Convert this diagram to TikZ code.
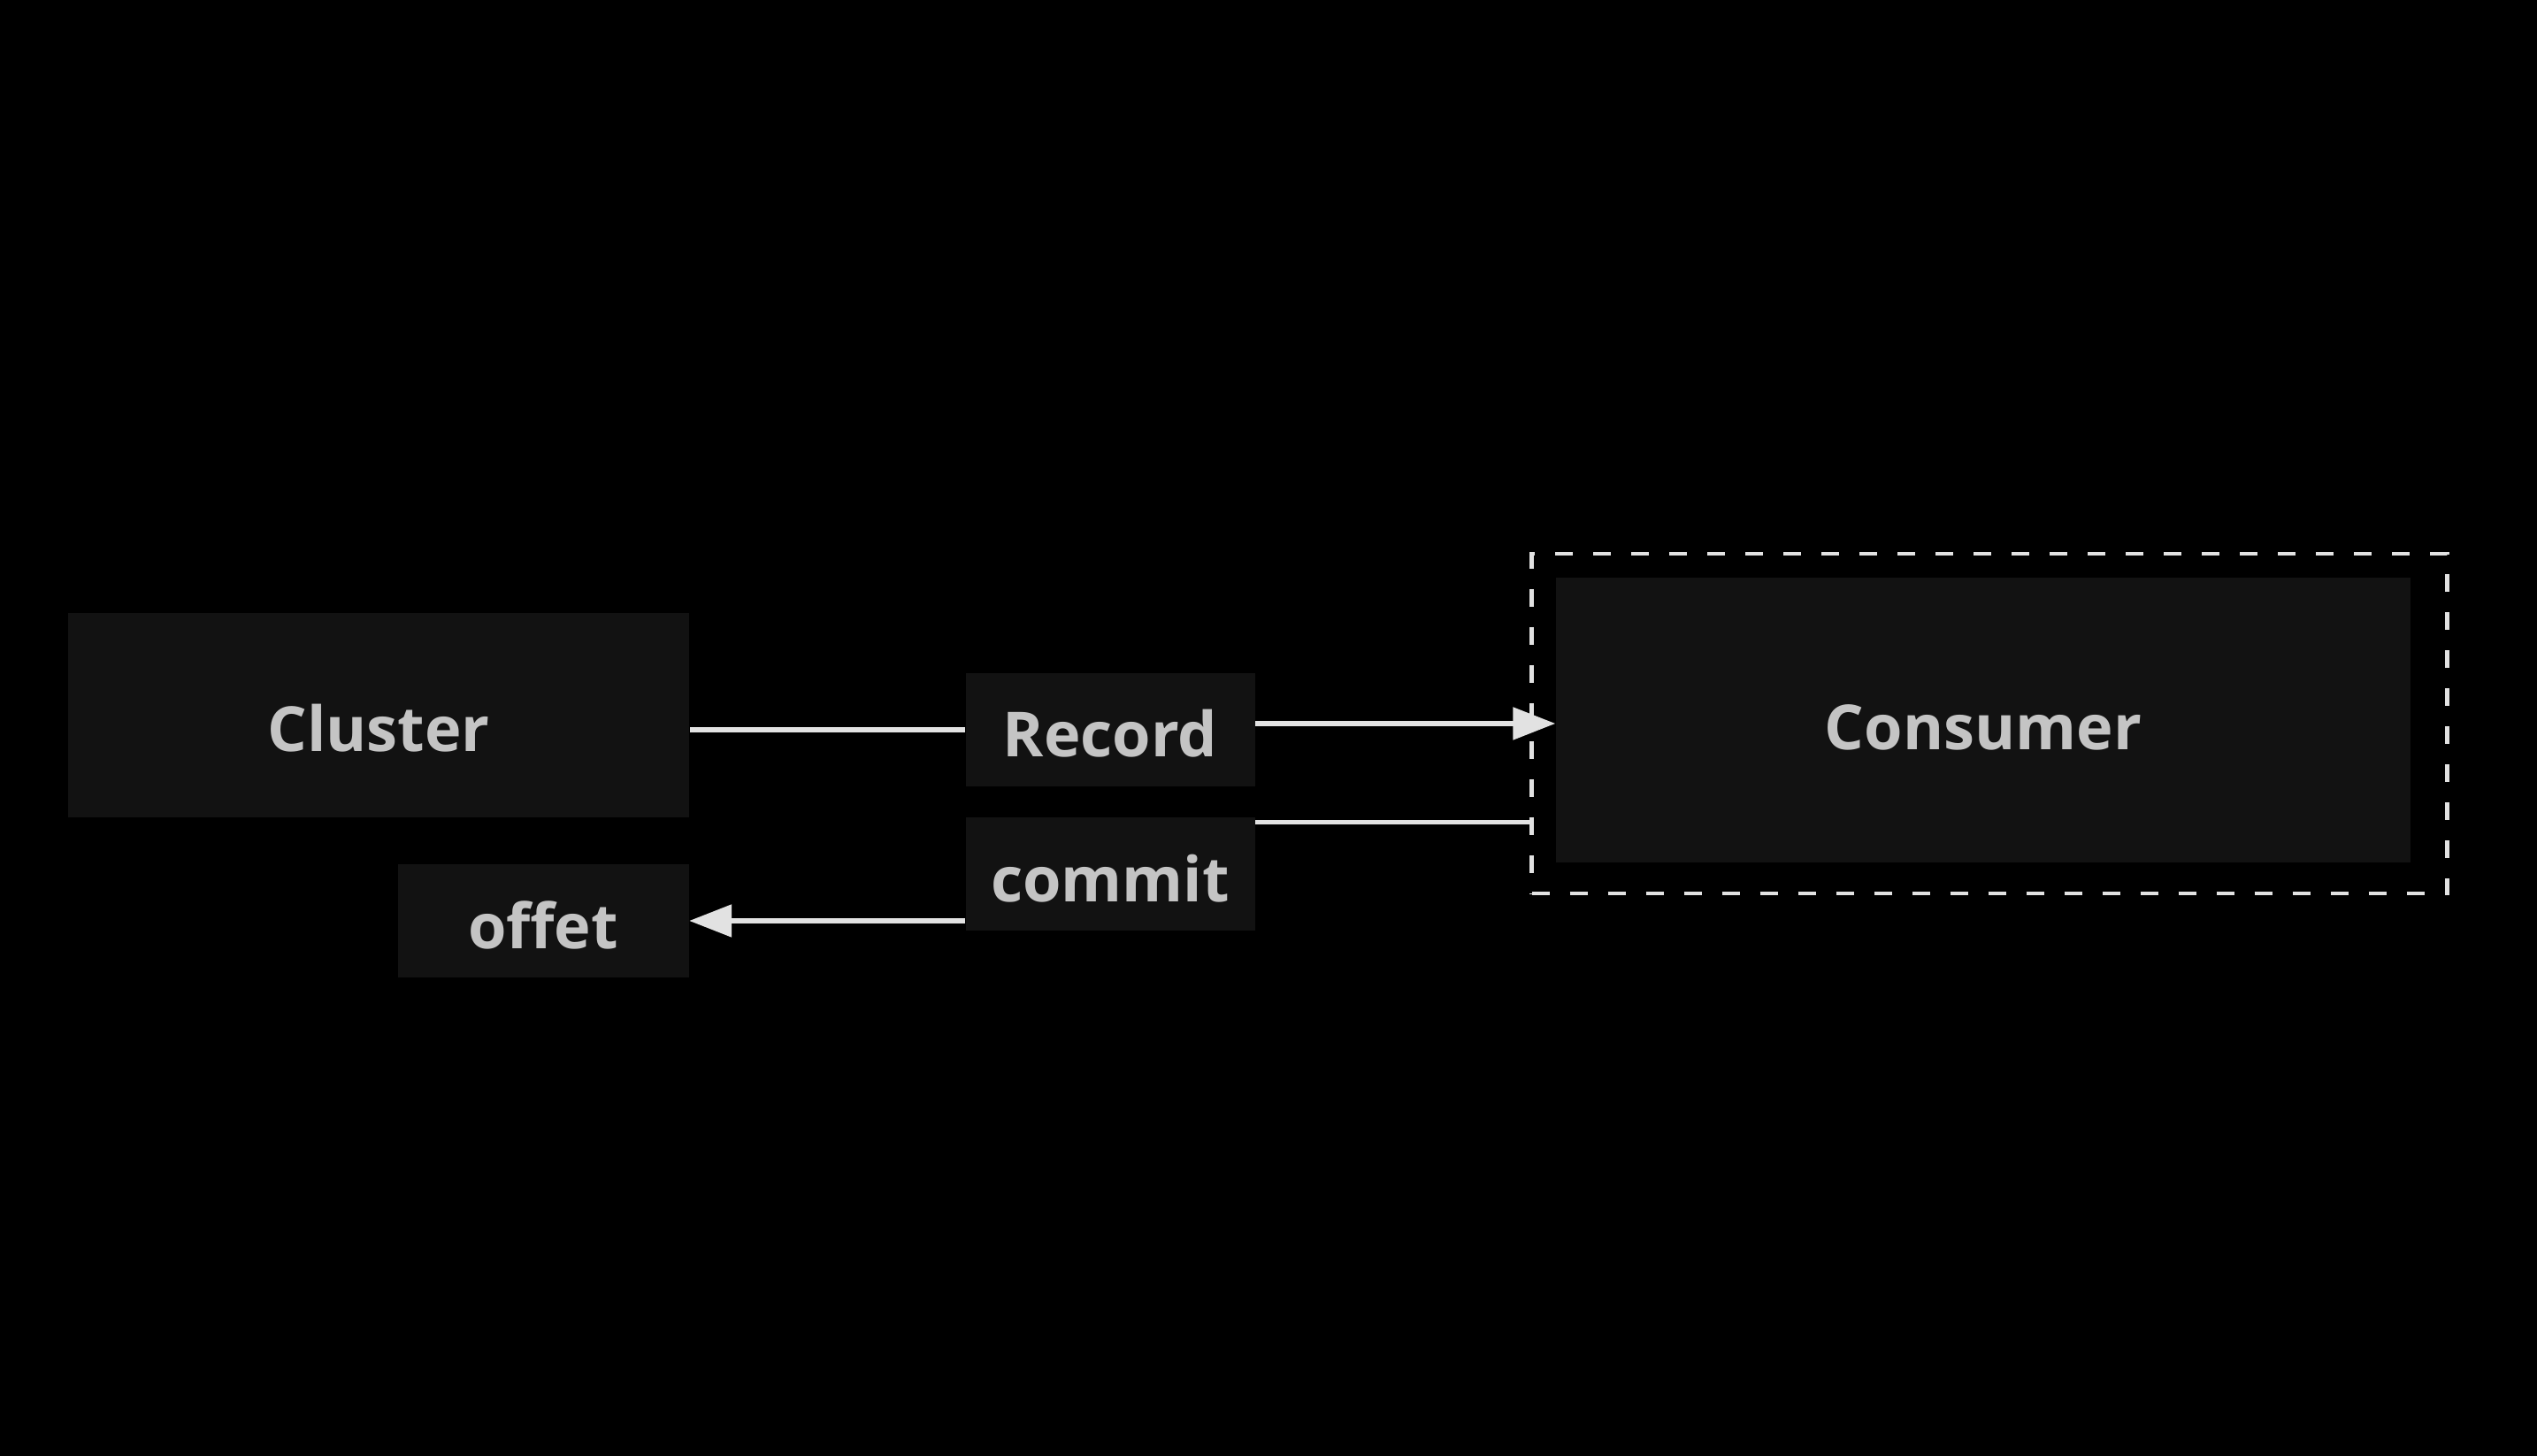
\documentclass[tikz,border=0pt]{standalone}
\usepackage{fontspec}
\setmainfont{Open Sans}
\usetikzlibrary{arrows.meta,positioning}
\definecolor{boxgray}{HTML}{121212}
\definecolor{txtgray}{HTML}{C4C4C4}
\definecolor{linegray}{HTML}{E2E2E2}
\newcommand{\lowtxt}[2]{\raisebox{-#1}[\height][\depth]{#2}}
\tikzset{>={Triangle[length=.48cm,width=.36cm]},every node/.style={font=\fontsize{20}{24}\selectfont\bfseries,text=txtgray},
 blk/.style={fill=boxgray,inner sep=0pt},edge/.style={draw=linegray,line width=1.5pt},flow/.style={edge,->}}
\begin{document}
\begin{tikzpicture}
\fill[black] (0,0) rectangle (28.68,16.46);\useasboundingbox (0,0) rectangle (28.68,16.46);
\node[blk,minimum width=7.02cm,minimum height=2.31cm] (cluster) at (4.28,8.37){\lowtxt{.14cm}{Cluster}};
\node[blk,minimum width=3.27cm,minimum height=1.28cm] (record) at (12.55,8.21){\lowtxt{.04cm}{Record}};
\node[blk,minimum width=3.27cm,minimum height=1.28cm] (commit) at (12.55,6.58){\lowtxt{.05cm}{commit}};
\node[blk,minimum width=3.29cm,minimum height=1.28cm] (offet) at (6.14,6.05){\lowtxt{.05cm}{offet}};
\node[blk,minimum width=9.66cm,minimum height=3.22cm] (consumer) at (22.42,8.32){\lowtxt{.08cm}{Consumer}};
\node[draw=linegray,line width=1.2pt,dash pattern=on .2cm off .23cm,minimum width=10.35cm,minimum height=3.84cm] (group) at (22.49,8.28){};
\draw[edge] (record.west)--(record.west-|cluster.east);\draw[flow] (record.east|-group.west)--(group.west-|consumer.west);
\draw[edge] ([yshift=-.06cm]commit.north east)--([yshift=-.06cm]commit.north east-|group.west);
\draw[flow] (offet.east-|commit.west)--(offet.east);
\end{tikzpicture}
\end{document}
